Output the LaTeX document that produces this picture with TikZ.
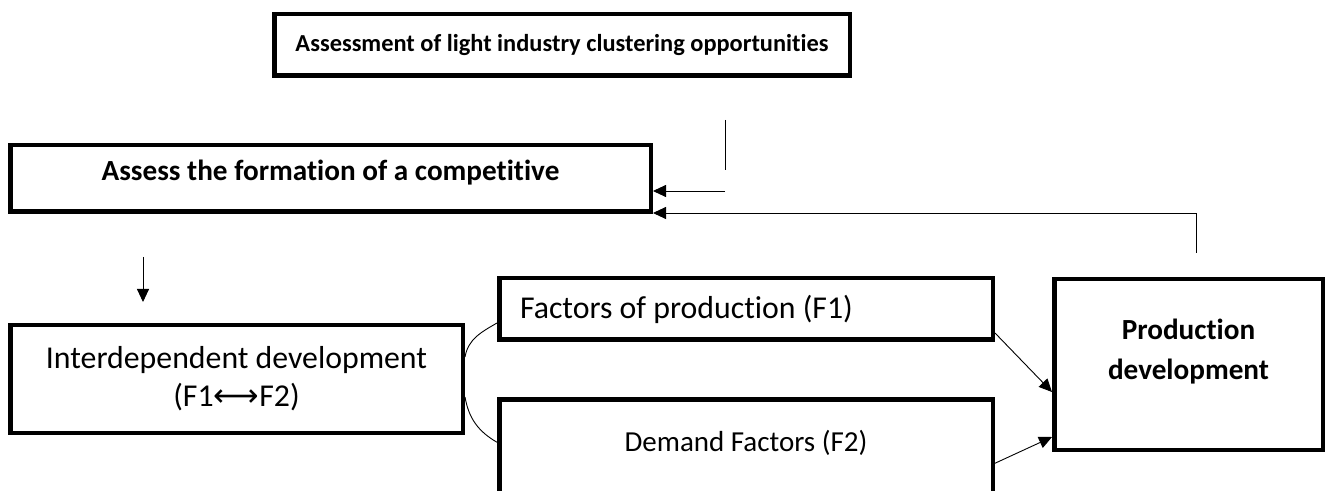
\documentclass[tikz,border=0pt]{standalone}
\usepackage{fontspec}
\setmainfont{Carlito}[Ligatures=NoCommon, Contextuals=NoAlternate]
\newfontfamily\arrowfont{DejaVu Sans}
\usetikzlibrary{arrows.meta, calc}

\begin{document}
\begin{tikzpicture}[x=1pt, y=1pt, >={Triangle[length=13pt,width=12pt]},
  box/.style={draw, rectangle, line width=4.5pt, inner sep=0pt},
  title font/.style={font=\fontsize{24.4}{30}\selectfont\bfseries},
  head font/.style={font=\fontsize{29.2}{40}\selectfont\bfseries},
  body font/.style={font=\fontsize{31.8}{38}\selectfont},
  link/.style={line width=0.9pt}]

  \useasboundingbox (0,0) rectangle (1327,490);
  \clip (0,0) rectangle (1327,490);

  \node[box, title font, minimum width=575.5pt, minimum height=61.5pt]
    (title) at (562,445)
    {Assessment of light industry clustering opportunities};
  \node[box, head font, minimum width=640.5pt, minimum height=66.5pt,
    text depth=16pt] (assess) at (330.5,311.5)
    {Assess the formation of a competitive};
  \node[box, body font, minimum width=452.5pt, minimum height=107.5pt,
    align=center] (inter) at (236.5,111)
    {Interdependent development\\(F1{\arrowfont ⟷}F2)};
  \node[box, body font, minimum width=493.5pt, minimum height=61.5pt,
    text width=452pt, align=flush left] (f1) at (746,181)
    {Factors of production (F1)};
  \node[box, font=\fontsize{29}{35}\selectfont, minimum width=493.5pt,
    text height=51.75pt, text depth=61pt, anchor=north] (f2) at (746,92.75)
    {Demand Factors (F2)};
  \node[box, head font, minimum width=268.5pt, minimum height=170.5pt,
    align=center, text depth=31pt] (prod) at (1188.5,125.5)
    {Production\\development};

  \coordinate (gap top) at (725,370);
  \coordinate (gap bottom) at (725,320);
  \coordinate (back) at (725,299);
  \coordinate (prod up) at (1196,237);
  \coordinate (turn) at (1196,277);
  \coordinate (down top) at (143,233);
  \coordinate (down tip) at (143,188);

  \draw[link] (gap top) -- (gap bottom);
  \draw[link,->] (back) -- (back -| assess.east);
  \draw[link,->] (prod up) -- (turn) -- (turn -| assess.east);
  \draw[link,->] (down top) -- (down tip);

  \draw[link] ($(inter.east)+(0,22)$) to[out=80,in=210] ($(f1.south west)+(0,19)$);
  \draw[link] ($(inter.east)+(0,-18)$) to[out=-80,in=150] ($(f2.north west)+(0,-45)$);

  \draw[link,->] ($(f1.south east)+(0,9)$) -- ($(prod.south west)+(0,60)$);
  \draw[link,->] ($(f2.north east)+(0,-66)$) -- ($(prod.south west)+(0,15)$);
\end{tikzpicture}
\end{document}
